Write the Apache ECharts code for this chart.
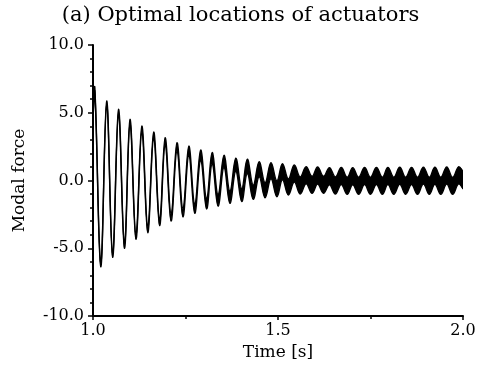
<!DOCTYPE html>
<html><head><meta charset="utf-8">
<script src="https://cdn.jsdelivr.net/npm/echarts@6/dist/echarts.min.js"></script>
<style>html,body{margin:0;padding:0;background:#fff}#c{width:481px;height:374px}</style>
</head><body><div id="c"></div>
<script>
// Local maxima of the modal force (time [s], value)
const peakTimes = [1.005,1.037,1.069,1.100,1.132,1.164,1.195,1.227,1.259,1.291,1.322,1.354,1.386,1.417,1.449,1.481,1.512,1.544,1.576,1.607,1.639,1.671,1.702,1.734,1.766,1.797,1.829,1.861,1.893,1.924,1.956,1.988];
const peakValues = [6.70,5.72,5.07,4.33,3.80,3.36,2.90,2.49,2.21,1.88,1.65,1.42,1.16,1.05,0.83,0.72,0.65,0.52,0.39,0.37,0.32,0.33,0.32,0.33,0.34,0.33,0.35,0.34,0.36,0.35,0.37,0.38];
// Local minima
const troughTimes = [1.021,1.053,1.085,1.116,1.148,1.180,1.211,1.243,1.275,1.307,1.338,1.370,1.402,1.433,1.465,1.497,1.528,1.560,1.592,1.623,1.655,1.687,1.718,1.750,1.782,1.813,1.845,1.877,1.909,1.940,1.972];
const troughValues = [-6.21,-5.52,-4.82,-4.15,-3.63,-3.11,-2.73,-2.38,-2.09,-1.73,-1.48,-1.24,-1.08,-0.87,-0.72,-0.61,-0.48,-0.37,-0.32,-0.32,-0.37,-0.39,-0.39,-0.39,-0.39,-0.39,-0.39,-0.39,-0.39,-0.39,-0.39];
// Half height of the fast ripple riding on each cycle
const rippleHalf = [0.15,0.15,0.18,0.18,0.22,0.22,0.26,0.30,0.33,0.37,0.41,0.44,0.48,0.52,0.55,0.59,0.59,0.63,0.63,0.63,0.63,0.63,0.63,0.63,0.63,0.63,0.63,0.63,0.63,0.63,0.63,0.63];
const startPoint = [1.0, 4.5, 0.15];
const endPoint = [2.0, 0.0, 0.63];
const xTicks = [1.0, 1.5, 2.0];
const yTicks = [-10, -5, 0, 5, 10];

const pts = [startPoint];
for (let k = 0; k < peakTimes.length; k++) {
  pts.push([peakTimes[k], peakValues[k], rippleHalf[k]]);
  if (k < troughTimes.length) pts.push([troughTimes[k], troughValues[k], rippleHalf[k]]);
}
pts.push(endPoint);

const font = '"DejaVu Serif", serif';
const SM = 0.4;
const chart = echarts.init(document.getElementById('c'), null, {renderer: 'canvas'});
chart.setOption({
  animation: false,
  backgroundColor: '#fff',
  title: {text: '(a) Optimal locations of actuators', left: 'center', top: 0,
    textStyle: {fontFamily: font, fontSize: 21, fontWeight: 'normal', color: '#000'}},
  grid: {left: 93, right: 18, top: 45, bottom: 58},
  xAxis: {type: 'value', min: xTicks[0], max: xTicks[xTicks.length-1], interval: 0.5,
    name: 'Time [s]', nameLocation: 'middle', nameGap: 27,
    nameTextStyle: {fontFamily: font, fontSize: 17, color: '#000'},
    axisLine: {onZero: false, lineStyle: {color: '#000', width: 2}},
    axisTick: {length: 4, lineStyle: {color: '#000', width: 1.5}},
    minorTick: {show: true, splitNumber: 2, length: 3, lineStyle: {color: '#000', width: 1.5}},
    splitLine: {show: false},
    axisLabel: {fontFamily: font, fontSize: 16, color: '#000', margin: 7, formatter: v => v.toFixed(1)}},
  yAxis: {type: 'value', min: yTicks[0], max: yTicks[yTicks.length-1], interval: 5,
    name: 'Modal force', nameLocation: 'middle', nameGap: 65,
    nameTextStyle: {fontFamily: font, fontSize: 17, color: '#000'},
    axisLine: {onZero: false, lineStyle: {color: '#000', width: 2}},
    axisTick: {length: 5, lineStyle: {color: '#000', width: 1.5}},
    minorTick: {show: true, splitNumber: 5, length: 3, lineStyle: {color: '#000', width: 1.5}},
    splitLine: {show: false},
    axisLabel: {fontFamily: font, fontSize: 16, color: '#000', margin: 9, formatter: v => v.toFixed(1)}},
  series: [{
    type: 'custom', coordinateSystem: 'cartesian2d', clip: true,
    data: [[startPoint[0], startPoint[1]]],
    renderItem: function (params, api) {
      const up = pts.map(p => api.coord([p[0], p[1] + p[2]]));
      const lo = pts.map(p => api.coord([p[0], p[1] - p[2]]));
      return {type: 'group', children: [
        {type: 'polygon', shape: {points: up.concat(lo.slice().reverse()), smooth: SM}, style: {fill: '#000'}},
        {type: 'polyline', shape: {points: up, smooth: SM}, style: {stroke: '#000', lineWidth: 1.4, fill: null}},
        {type: 'polyline', shape: {points: lo, smooth: SM}, style: {stroke: '#000', lineWidth: 1.4, fill: null}}
      ]};
    }
  }]
});
</script></body></html>
